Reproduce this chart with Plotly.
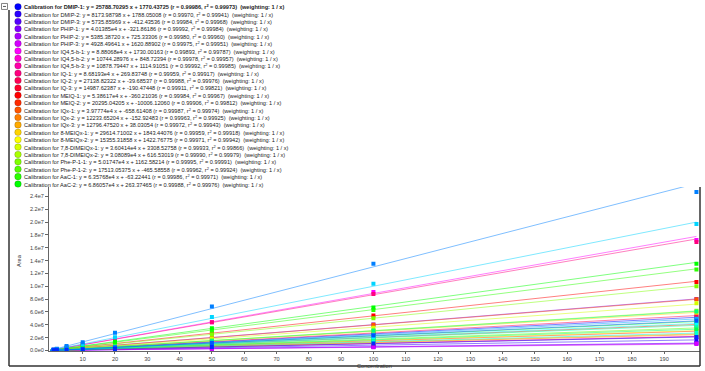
import colorsys
import math
import plotly.graph_objects as go

W, H = 705, 371

# Calibration levels (concentration) shared by every compound
conc = [1, 2, 5, 10, 20, 50, 100, 200]

# Compounds listed in the calibration legend
names = ["DMIP-1", "DMIP-2", "DMIP-3", "PHIP-1", "PHIP-2", "PHIP-3",
         "IQ4,5-b-1", "IQ4,5-b-2", "IQ4,5-b-3", "IQ-1", "IQ-2", "IQ-3",
         "MEIQ-1", "MEIQ-2", "IQx-1", "IQx-2", "IQx-3", "8-MEIQx-1",
         "8-MEIQx-2", "7,8-DIMEIQx-1", "7,8-DIMEIQx-2", "Phe-P-1-1",
         "Phe-P-1-2", "AaC-1", "AaC-2"]
slopes = [25788.70295, 8173.98798, 5735.85969, 40138.5, 5385.38720, 4928.49641,
          88806.8, 10744.28976, 10878.79447, 86819.3, 27138.82322, 14987.62387,
          53861.7, 20295.04205, 39777.4, 12233.65204, 12796.47520, 29614.71002,
          15355.31858, 36041.4, 30808.9, 50174.7, 17513.05375, 63576.8, 68605.7]
intercepts = [1770.43725, 1788.05008, -412.43536, -321.86186, 725.33306, 1620.88902,
              1730.00163, 848.72394, 1114.91051, 269.83748, -39.68537, -190.47448,
              -360.21036, -10006.12060, -658.61408, -152.92483, 38.03054, 1843.44076,
              1422.76775, 3308.52758, 616.53019, 1162.58214, -465.58558, -63.22441,
              263.37465]
r_vals = [0.99986, 0.99970, 0.99984, 0.99992, 0.99980, 0.99975, 0.99893, 0.99978,
          0.99992, 0.99959, 0.99988, 0.99911, 0.99984, 0.99906, 0.99987, 0.99963,
          0.99972, 0.99959, 0.99971, 0.99933, 0.99990, 0.99995, 0.99962, 0.99986,
          0.99988]
r2_vals = [0.99973, 0.99941, 0.99968, 0.99984, 0.99960, 0.99951, 0.99787, 0.99957,
           0.99985, 0.99917, 0.99976, 0.99821, 0.99967, 0.99812, 0.99974, 0.99925,
           0.99943, 0.99918, 0.99942, 0.99866, 0.99979, 0.99991, 0.99924, 0.99971,
           0.99976]

# Further calibrations further down the (scrolled) list
extra_slopes = [22500, 16500, 30500, 19500, 13500, 21000, 100000, 24500, 130000, 23000, 10500]
extra_intercepts = [0, 0, 0, 0, 0, 0, 0, 0, 20000, 0, 0]

# Measured peak areas at each calibration level
areas = [
    [2.81e4, 5.22e4, 1.33e5, 2.55e5, 5.24e5, 1.28e6, 2.60e6, 5.16e6],
    [9.8e3, 1.85e4, 4.2e4, 8.5e4, 1.62e5, 4.15e5, 8.08e5, 1.64e6],
    [5.4e3, 1.09e4, 2.88e4, 5.6e4, 1.16e5, 2.83e5, 5.79e5, 1.145e6],
    [4.05e4, 7.85e4, 2.04e5, 3.95e5, 8.12e5, 1.99e6, 4.05e6, 8.02e6],
    [6.0e3, 1.17e4, 2.72e4, 5.55e4, 1.07e5, 2.74e5, 5.33e5, 1.08e6],
    [6.7e3, 1.12e4, 2.68e4, 5.0e4, 1.02e5, 2.44e5, 5.01e5, 9.85e5],
    [9.25e4, 1.77e5, 4.52e5, 8.76e5, 1.80e6, 4.40e6, 9.10e6, 1.72e7],
    [1.14e4, 2.27e4, 5.38e4, 1.10e5, 2.12e5, 5.45e5, 1.06e6, 2.16e6],
    [1.19e4, 2.3e4, 5.5e4, 1.10e5, 2.2e5, 5.42e5, 1.09e6, 2.18e6],
    [8.55e4, 1.77e5, 4.28e5, 8.85e5, 1.71e6, 4.40e6, 8.80e6, 1.69e7],
    [2.75e4, 5.35e4, 1.37e5, 2.68e5, 5.48e5, 1.34e6, 2.74e6, 5.42e6],
    [1.52e4, 2.91e4, 7.7e4, 1.45e5, 3.08e5, 7.3e5, 1.53e6, 2.97e6],
    [5.42e4, 1.06e5, 2.72e5, 5.31e5, 1.09e6, 2.66e6, 5.45e6, 1.065e7],
    [1.08e4, 2.95e4, 9.4e4, 1.88e5, 4.05e5, 9.9e5, 2.05e6, 4.02e6],
    [3.98e4, 7.8e4, 2.01e5, 3.92e5, 8.03e5, 1.97e6, 4.01e6, 7.98e6],
    [1.23e4, 2.39e4, 6.2e4, 1.20e5, 2.49e5, 6.02e5, 1.24e6, 2.43e6],
    [1.26e4, 2.6e4, 6.3e4, 1.3e5, 2.52e5, 6.48e5, 1.27e6, 2.57e6],
    [3.2e4, 6.0e4, 1.52e5, 2.93e5, 6.05e5, 1.46e6, 3.01e6, 5.88e6],
    [1.65e4, 3.26e4, 7.7e4, 1.57e5, 3.04e5, 7.8e5, 1.52e6, 3.08e6],
    [3.85e4, 7.7e4, 1.8e5, 3.72e5, 7.1e5, 1.84e6, 3.55e6, 7.35e6],
    [3.1e4, 6.3e4, 1.53e5, 3.11e5, 6.12e5, 1.55e6, 3.07e6, 6.17e6],
    [5.1e4, 1.02e5, 2.5e5, 5.05e5, 1.0e6, 2.52e6, 5.0e6, 1.0e7],
    [1.74e4, 3.39e4, 8.9e4, 1.71e5, 3.56e5, 8.6e5, 1.78e6, 3.48e6],
    [6.4e4, 1.26e5, 3.2e5, 6.3e5, 1.28e6, 3.15e6, 6.3e6, 1.26e7],
    [6.85e4, 1.39e5, 3.4e5, 6.9e5, 1.36e6, 3.45e6, 6.7e6, 1.35e7],
    [2.3e4, 4.4e4, 1.14e5, 2.21e5, 4.58e5, 1.11e6, 2.28e6, 4.47e6],
    [1.62e4, 3.36e4, 8.1e4, 1.68e5, 3.24e5, 8.4e5, 1.63e6, 3.32e6],
    [3.1e4, 6.0e4, 1.55e5, 3.0e5, 6.2e5, 1.5e6, 3.1e6, 6.08e6],
    [1.98e4, 3.83e4, 9.9e4, 1.92e5, 3.96e5, 9.6e5, 1.98e6, 3.88e6],
    [1.33e4, 2.74e4, 6.6e4, 1.37e5, 2.66e5, 6.85e5, 1.33e6, 2.71e6],
    [2.07e4, 4.26e4, 1.03e5, 2.13e5, 4.14e5, 1.07e6, 2.07e6, 4.22e6],
    [1.02e5, 1.97e5, 5.1e5, 9.8e5, 2.05e6, 5.2e6, 1.04e7, 1.97e7],
    [2.42e4, 4.95e4, 1.21e5, 2.49e5, 4.85e5, 1.24e6, 2.43e6, 4.92e6],
    [1.28e5, 2.65e5, 6.7e5, 1.27e6, 2.75e6, 6.85e6, 1.35e7, 2.47e7],
    [2.35e4, 4.55e4, 1.17e5, 2.26e5, 4.66e5, 1.14e6, 2.33e6, 4.62e6],
    [1.07e4, 2.06e4, 5.3e4, 1.03e5, 2.14e5, 5.18e5, 1.06e6, 2.09e6],
]

y_ticks = [i * 2e6 for i in range(13)]
x_ticks = list(range(10, 200, 10))

all_slopes = slopes + extra_slopes
all_intercepts = intercepts + extra_intercepts
n_series = len(all_slopes)


def series_rgb(i, alpha=1.0):
    hue = ((240 + 10 * i) % 360) / 360.0
    r, g, b = colorsys.hls_to_rgb(hue, 0.5, 1.0)
    return f"rgba({int(r * 255)},{int(g * 255)},{int(b * 255)},{alpha})"


def sci_label(v):
    if v == 0:
        return "0.0e0"
    e = int(math.floor(math.log10(v)))
    return f"{v / 10 ** e:.1f}e{e}"


def fmt_slope(s):
    if s >= 30000:
        return f"{s / 1e4:.5f}e4"
    return f"{s:.5f}"


def px(x):
    return x / W


def py(y):
    return 1 - y / H


fig = go.Figure()

# fitted calibration lines
for i in range(n_series):
    s, b = all_slopes[i], all_intercepts[i]
    fig.add_trace(go.Scatter(
        x=[0, conc[-1]], y=[b, s * conc[-1] + b], mode="lines",
        line=dict(color=series_rgb(i, 0.5), width=1),
        showlegend=False, hoverinfo="skip"))

# measured calibration points
for i in range(n_series):
    fig.add_trace(go.Scatter(
        x=conc, y=areas[i], mode="markers",
        marker=dict(symbol="square", size=4, color=series_rgb(i)),
        showlegend=False))

FONT = "Liberation Sans, Arial, sans-serif"
annotations = []
shapes = []

# calibration list in the top-left corner
row0, row_step = 6.7, 7.43
for i, name in enumerate(names):
    yr = row0 + i * row_step
    txt = (f"Calibration for {name}: y = {fmt_slope(slopes[i])} x + {intercepts[i]:.5f} "
           f"(r = {r_vals[i]:.5f}, r<sup>2</sup> = {r2_vals[i]:.5f})\u00a0 (weighting: 1 / x)")
    if i == 0:
        txt = f"<b>{txt}</b>"
    annotations.append(dict(
        x=px(22), y=py(yr), xref="paper", yref="paper", xanchor="left", yanchor="middle",
        text=txt, showarrow=False, font=dict(family=FONT, size=5.6, color="#222")))
    shapes.append(dict(
        type="circle", xref="paper", yref="paper",
        x0=px(18 - 3.3), x1=px(18 + 3.3), y0=py(yr + 3.3), y1=py(yr - 3.3),
        fillcolor=series_rgb(i), line=dict(color="rgba(0,0,0,0.35)", width=0.5)))

# collapse box of the list
shapes.append(dict(type="rect", xref="paper", yref="paper",
                   x0=px(1.5), x1=px(7.5), y0=py(9.5), y1=py(3.5),
                   line=dict(color="#666", width=0.8), fillcolor="white"))
shapes.append(dict(type="line", xref="paper", yref="paper",
                   x0=px(3), x1=px(6), y0=py(6.5), y1=py(6.5),
                   line=dict(color="#333", width=0.8)))

# panel frame
for x0, y0, x1, y1 in [(9, 10, 9, 368), (9, 368, 700, 368), (700, 188, 700, 368)]:
    shapes.append(dict(type="line", xref="paper", yref="paper",
                       x0=px(x0), x1=px(x1), y0=py(y0), y1=py(y1),
                       line=dict(color="#333", width=1.5)))

# axis titles
annotations.append(dict(x=px(374), y=py(362.5), xref="paper", yref="paper",
                        xanchor="center", yanchor="top",
                        text="Concentration", showarrow=False,
                        font=dict(family=FONT, size=5.6, color="#333")))
annotations.append(dict(x=px(14), y=py(271), xref="paper", yref="paper",
                        text="Area", textangle=-90, showarrow=False,
                        font=dict(family=FONT, size=5.6, color="#333")))

fig.update_layout(
    width=W, height=H,
    margin=dict(l=0, r=0, t=0, b=0),
    paper_bgcolor="white", plot_bgcolor="white",
    showlegend=False,
    annotations=annotations, shapes=shapes,
    xaxis=dict(domain=[49 / W, 700 / W], range=[-0.43, 201.1],
               tickvals=x_ticks, ticks="outside", ticklen=2, tickcolor="#666",
               showline=True, linecolor="#666", linewidth=1,
               showgrid=False, zeroline=False,
               tickfont=dict(family=FONT, size=5.6, color="#444")),
    yaxis=dict(domain=[(H - 353.3) / H, (H - 188) / H], range=[-1.55e5, 2.547e7],
               tickvals=y_ticks, ticktext=[sci_label(v) for v in y_ticks],
               ticks="outside", ticklen=3, tickcolor="#666",
               showline=True, linecolor="#666", linewidth=1,
               showgrid=False, zeroline=False,
               tickfont=dict(family=FONT, size=5.6, color="#444")),
)

fig.write_html("out.html")
